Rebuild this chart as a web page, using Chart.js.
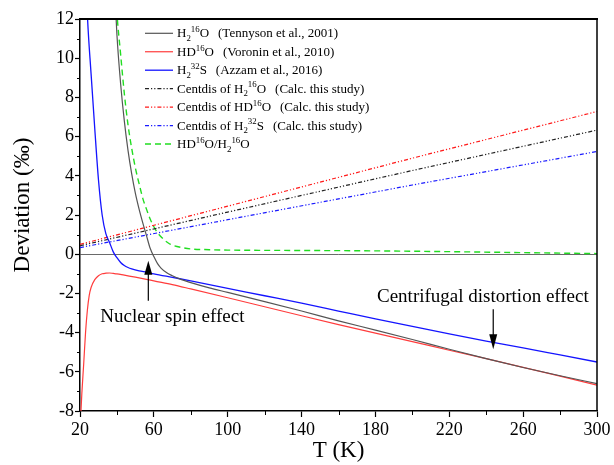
<!DOCTYPE html>
<html><head><meta charset="utf-8">
<script src="https://cdn.jsdelivr.net/npm/chart.js@4.4.0/dist/chart.umd.min.js"></script>
<style>html,body{margin:0;padding:0;background:#fff;}#wrap{width:614px;height:465px;}</style>
</head><body><div id="wrap"><canvas id="c" width="614" height="465"></canvas></div>
<script>
// ---------- data ----------
const xTicks = [20, 60, 100, 140, 180, 220, 260, 300];
const yTicks = [-8, -6, -4, -2, 0, 2, 4, 6, 8, 10, 12];

const tH2O = [38, 40, 42, 44, 46, 48, 50, 52, 54, 56, 58, 60, 62, 64, 67, 70, 75, 80, 90, 100, 120, 140, 160, 180, 200, 220, 240, 260, 280, 300];
const vH2O = [15, 11.2, 8.7, 6.8, 5.3, 4.1, 3.1, 2.3, 1.6, 0.95, 0.3, -0.12, -0.48, -0.72, -0.95, -1.1, -1.3, -1.45, -1.72, -1.95, -2.42, -2.9, -3.4, -3.87, -4.35, -4.85, -5.33, -5.78, -6.2, -6.6];

const tHDO = [20, 21, 22, 23, 24, 25, 26, 28, 30, 32, 34, 36, 38, 40, 44, 50, 56, 60, 70, 80, 100, 120, 140, 160, 180, 200, 220, 240, 260, 280, 300];
const vHDO = [-9.0, -7.1, -5.6, -4.0, -2.85, -2.1, -1.7, -1.3, -1.1, -1.0, -0.97, -0.96, -0.98, -1.0, -1.07, -1.17, -1.28, -1.36, -1.55, -1.77, -2.22, -2.68, -3.14, -3.59, -4.03, -4.46, -4.9, -5.33, -5.77, -6.22, -6.68];

const tH2S = [22, 24, 26, 28, 30, 32, 34, 36, 38, 40, 42, 44, 46, 48, 52, 56, 60, 70, 80, 100, 120, 140, 160, 180, 200, 220, 240, 260, 280, 300];
const vH2S = [17.5, 12.2, 9.2, 6.4, 3.8, 2.0, 1.05, 0.6, 0.12, -0.18, -0.42, -0.58, -0.68, -0.75, -0.85, -0.92, -1.0, -1.18, -1.36, -1.74, -2.12, -2.5, -2.9, -3.3, -3.68, -4.06, -4.43, -4.78, -5.14, -5.5];

const tCent = [20, 100, 200, 300];
const vCentH2O = [0.43, 2.15, 4.27, 6.33];
const vCentHDO = [0.5, 2.45, 4.9, 7.28];
const vCentH2S = [0.34, 1.76, 3.53, 5.24];

const tRatio = [39, 40, 42, 44, 46, 48, 50, 52, 54, 56, 58, 60, 62, 64, 66, 68, 70, 75, 80, 90, 100, 140, 180, 220, 260, 300];
const vRatio = [14, 12.3, 10.2, 8.2, 6.6, 5.4, 4.4, 3.6, 2.85, 2.3, 1.8, 1.4, 1.1, 0.88, 0.7, 0.56, 0.46, 0.34, 0.27, 0.23, 0.21, 0.19, 0.17, 0.13, 0.08, 0.03];

const legendLabels = ['H_{2}^{16}O', 'HD^{16}O', 'H_{2}^{32}S', 'Centdis of H_{2}^{16}O', 'Centdis of HD^{16}O', 'Centdis of H_{2}^{32}S', 'HD^{16}O/H_{2}^{16}O'];
const legendCites = ['(Tennyson et al., 2001)', '(Voronin et al., 2010)', '(Azzam et al., 2016)', '(Calc. this study)', '(Calc. this study)', '(Calc. this study)', ''];

const xTitle = 'T (K)';
const yTitle = 'Deviation (\u2030)';
const note1 = 'Nuclear spin effect';
const note2 = 'Centrifugal distortion effect';

// ---------- styles ----------
const FONT = '"Liberation Serif", "Times New Roman", serif';
const DD = [4, 2, 1.2, 2, 1.2, 2];
const styles = [
  {c: '#555555', w: 1.2, d: []},
  {c: '#ff3c3c', w: 1.2, d: []},
  {c: '#1414ff', w: 1.3, d: []},
  {c: '#222222', w: 1.2, d: DD},
  {c: '#ff1a1a', w: 1.2, d: DD},
  {c: '#1a1aff', w: 1.2, d: DD},
  {c: '#22dd22', w: 1.4, d: [6, 4]}
];
const series = [[tH2O, vH2O], [tHDO, vHDO], [tH2S, vH2S], [tCent, vCentH2O], [tCent, vCentHDO], [tCent, vCentH2S], [tRatio, vRatio]];

const datasets = series.map((s, i) => ({
  label: legendLabels[i].replace(/[_^]\{([^}]*)\}/g, '$1'),
  data: s[0].map((x, j) => ({x: x, y: s[1][j]})),
  borderColor: styles[i].c,
  borderWidth: styles[i].w,
  borderDash: styles[i].d,
  pointRadius: 0,
  fill: false,
  cubicInterpolationMode: i >= 3 && i <= 5 ? 'default' : 'monotone',
  tension: 0
}));

function drawRich(ctx, str, x, y, size) {
  const parts = str.split(/(_\{[^}]*\}|\^\{[^}]*\})/).filter(s => s.length);
  for (const p of parts) {
    let t = p, dy = 0, fs = size;
    if (p.startsWith('_{')) { t = p.slice(2, -1); dy = size * 0.28; fs = size * 0.68; }
    else if (p.startsWith('^{')) { t = p.slice(2, -1); dy = -size * 0.4; fs = size * 0.68; }
    ctx.font = fs + 'px ' + FONT;
    ctx.fillText(t, x, y + dy);
    x += ctx.measureText(t).width;
  }
  return x;
}

function arrow(ctx, x, y0, y1, hw, hh) {
  const dir = y1 > y0 ? 1 : -1;
  ctx.beginPath();
  ctx.moveTo(x, y0);
  ctx.lineTo(x, y1 - dir * hh * 0.5);
  ctx.stroke();
  ctx.beginPath();
  ctx.moveTo(x, y1);
  ctx.lineTo(x - hw / 2, y1 - dir * hh);
  ctx.lineTo(x + hw / 2, y1 - dir * hh);
  ctx.closePath();
  ctx.fill();
}

const decor = {
  id: 'decor',
  afterDraw(chart) {
    const ctx = chart.ctx, a = chart.chartArea;
    const xs = chart.scales.x, ys = chart.scales.y;
    ctx.save();
    ctx.strokeStyle = '#000';
    ctx.fillStyle = '#000';
    // minor ticks
    ctx.lineWidth = 1;
    for (let v = ys.min + 1; v < ys.max; v += 2) {
      const py = Math.round(ys.getPixelForValue(v)) + 0.5;
      ctx.beginPath(); ctx.moveTo(a.left - 3, py); ctx.lineTo(a.left, py); ctx.stroke();
    }
    for (let v = xs.min + 20; v < xs.max; v += 40) {
      const px = Math.round(xs.getPixelForValue(v)) + 0.5;
      ctx.beginPath(); ctx.moveTo(px, a.bottom); ctx.lineTo(px, a.bottom + 4); ctx.stroke();
    }
    // frame top / right
    ctx.lineWidth = 2;
    ctx.beginPath(); ctx.moveTo(a.left, a.top); ctx.lineTo(a.right + 1, a.top); ctx.stroke();
    ctx.lineWidth = 1.5;
    ctx.beginPath(); ctx.moveTo(a.right, a.top); ctx.lineTo(a.right, a.bottom); ctx.stroke();
    // y title
    ctx.save();
    ctx.translate(23, 205);
    ctx.rotate(-Math.PI / 2);
    ctx.font = '23px ' + FONT;
    ctx.textAlign = 'center';
    ctx.textBaseline = 'middle';
    ctx.fillText(yTitle, 0, 0);
    ctx.restore();
    // legend
    ctx.textAlign = 'left';
    ctx.textBaseline = 'alphabetic';
    const lx = a.left + 65, ly = a.top + 14.3, step = 18.45;
    legendLabels.forEach((lab, i) => {
      const yy = ly + i * step;
      ctx.save();
      ctx.strokeStyle = styles[i].c;
      ctx.lineWidth = styles[i].w;
      ctx.setLineDash(styles[i].d);
      ctx.beginPath(); ctx.moveTo(lx, yy); ctx.lineTo(lx + 28, yy); ctx.stroke();
      ctx.restore();
      let ex = drawRich(ctx, lab, lx + 32, yy + 4, 13);
      if (legendCites[i]) {
        ctx.font = '13px ' + FONT;
        ctx.fillText(legendCites[i], ex + 9, yy + 4);
      }
    });
    // annotations
    ctx.lineWidth = 1.2;
    ctx.font = '19px ' + FONT;
    ctx.textAlign = 'center';
    ctx.fillText(note1, xs.getPixelForValue(70), ys.getPixelForValue(-3.47));
    arrow(ctx, xs.getPixelForValue(57), ys.getPixelForValue(-2.38), ys.getPixelForValue(-0.34), 8, 14);
    ctx.fillText(note2, xs.getPixelForValue(238.2), ys.getPixelForValue(-2.43));
    arrow(ctx, xs.getPixelForValue(243.8), ys.getPixelForValue(-2.81), ys.getPixelForValue(-4.85), 8, 15);
    ctx.restore();
  }
};

new Chart(document.getElementById('c'), {
  type: 'line',
  data: {datasets: datasets},
  options: {
    responsive: false,
    animation: false,
    devicePixelRatio: 1,
    layout: {padding: {top: 19, right: 17, left: 0, bottom: 0}},
    plugins: {legend: {display: false}, tooltip: {enabled: false}},
    scales: {
      x: {
        type: 'linear', min: 20, max: 300,
        afterBuildTicks: s => { s.ticks = xTicks.map(v => ({value: v})); },
        afterFit: s => { s.height = 54; },
        ticks: {color: '#000', font: {family: FONT, size: 18}, maxRotation: 0, padding: 2, autoSkip: false},
        grid: {drawOnChartArea: false, tickLength: 6, tickColor: '#000', tickWidth: 1.2},
        border: {color: '#000', width: 1.5},
        title: {display: true, text: xTitle, color: '#000', font: {family: FONT, size: 23}, padding: {top: 0, bottom: 0}}
      },
      y: {
        type: 'linear', min: -8, max: 12,
        afterBuildTicks: s => { s.ticks = yTicks.map(v => ({value: v})); },
        afterFit: s => { s.width = 80; },
        ticks: {color: '#000', font: {family: FONT, size: 18}, padding: 1, autoSkip: false},
        grid: {
          color: c => (c.tick && c.tick.value === 0) ? '#6a6a6a' : 'rgba(0,0,0,0)',
          lineWidth: 1, tickLength: 5, tickColor: '#000', tickWidth: 1.2
        },
        border: {color: '#000', width: 1.5}
      }
    }
  },
  plugins: [decor]
});
</script></body></html>
